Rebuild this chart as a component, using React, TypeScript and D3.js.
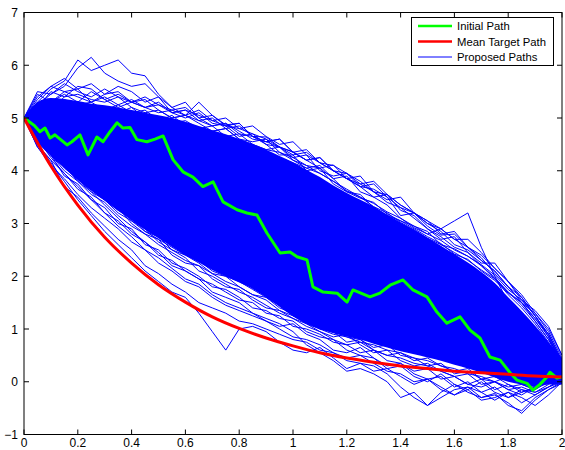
import * as d3 from "d3";

// time grid shared by the proposed paths and the band envelope
const TIME = [
  0, 0.05, 0.1, 0.15, 0.2, 0.25, 0.3, 0.35, 0.4, 0.45, 0.5, 0.55, 0.6, 0.65, 0.7, 0.75, 0.8, 0.85, 0.9, 0.95,
  1.0, 1.05, 1.1, 1.15, 1.2, 1.25, 1.3, 1.35, 1.4, 1.45, 1.5, 1.55, 1.6, 1.65, 1.7, 1.75, 1.8, 1.85, 1.9, 1.95, 2.0,
];

// dense part of the proposed paths (upper / lower edge)
const BAND_UPPER = [
  5.0, 5.3, 5.38, 5.36, 5.32, 5.27, 5.24, 5.2, 5.15, 5.1, 5.05, 5.0, 4.93, 4.85, 4.77, 4.69, 4.6, 4.5, 4.4, 4.28,
  4.16, 4.02, 3.88, 3.72, 3.58, 3.45, 3.32, 3.17, 3.02, 2.88, 2.73, 2.58, 2.42, 2.26, 2.08, 1.87, 1.6, 1.34, 1.06, 0.75, 0.45,
];
const BAND_LOWER = [
  5.0, 4.55, 4.28, 4.05, 3.82, 3.62, 3.43, 3.24, 3.06, 2.88, 2.72, 2.56, 2.4, 2.26, 2.12, 2.0, 1.88, 1.76, 1.6, 1.42,
  1.24, 1.1, 1.0, 0.92, 0.86, 0.8, 0.72, 0.65, 0.58, 0.52, 0.46, 0.4, 0.32, 0.25, 0.17, 0.08, 0.0, -0.05, -0.1, -0.05, -0.05,
];

// individual proposed paths around the edges of the band
const PROPOSED = [
  [5.0, 5.3, 5.55, 5.7, 6.1, 5.9, 6.0, 6.1, 5.85, 5.8, 5.45, 5.2, 5.3, 5.0, 4.85, 4.9, 4.7, 4.65, 4.5, 4.3,
   4.3, 4.0, 4.05, 3.75, 3.6, 3.55, 3.3, 3.15, 3.05, 2.95, 2.8, 2.9, 3.05, 3.2, 2.55, 2.0, 1.5, 1.2, 0.9, 0.55, 0.15],
  [5.0, 5.25, 5.45, 5.6, 5.95, 6.15, 5.85, 5.7, 5.6, 5.65, 5.4, 5.1, 5.15, 5.05, 4.95, 5.0, 4.8, 4.7, 4.6, 4.45,
   4.3, 4.35, 4.15, 4.0, 3.85, 3.75, 3.6, 3.4, 3.3, 3.1, 2.9, 2.75, 2.55, 2.45, 2.2, 1.95, 1.65, 1.4, 1.1, 0.75, 0.2],
  [5.0, 5.4, 5.6, 5.5, 5.55, 5.3, 5.45, 5.5, 5.3, 5.35, 5.15, 5.0, 5.05, 5.3, 5.05, 4.87, 4.9, 4.65, 4.64, 4.45,
   4.35, 4.4, 4.15, 4.0, 3.95, 3.8, 3.6, 3.55, 3.35, 3.2, 3.0, 2.85, 2.6, 2.5, 2.3, 2.1, 1.8, 1.5, 1.2, 0.85, 0.35],
  [5.0, 5.2, 5.3, 5.45, 5.3, 5.5, 5.35, 5.2, 5.3, 5.2, 5.1, 5.15, 5.05, 4.95, 4.85, 4.9, 4.75, 4.6, 4.55, 4.45,
   4.36, 4.2, 4.05, 4.11, 3.85, 3.7, 3.65, 3.5, 3.3, 3.2, 3.0, 2.9, 2.7, 2.55, 2.4, 2.15, 1.9, 1.6, 1.25, 0.9, 0.4],
  [5.0, 5.45, 5.3, 5.5, 5.4, 5.3, 5.4, 5.25, 5.35, 5.2, 5.25, 5.1, 5.15, 4.95, 5.0, 4.8, 4.85, 4.65, 4.55, 4.6,
   4.35, 4.2, 4.25, 4.0, 3.85, 3.7, 3.75, 3.5, 3.15, 3.2, 2.95, 2.78, 2.8, 2.55, 2.35, 2.05, 1.8, 1.5, 1.15, 0.8, 0.3],
  [5.0, 5.1, 5.3, 5.2, 5.1, 5.25, 5.05, 5.1, 5.2, 5.0, 4.95, 5.05, 4.85, 4.8, 4.75, 4.8, 4.6, 4.5, 4.4, 4.35,
   4.2, 4.1, 3.95, 3.8, 3.65, 3.5, 3.32, 3.2, 3.02, 2.88, 2.72, 2.6, 2.45, 2.3, 2.12, 1.95, 1.7, 1.5, 1.3, 1.0, 0.5],
  [5.0, 5.3, 5.15, 5.35, 5.25, 5.3, 5.15, 5.25, 5.1, 5.15, 4.95, 4.9, 4.95, 4.8, 4.85, 4.65, 4.7, 4.5, 4.4, 4.45,
   4.2, 4.05, 4.1, 3.85, 3.6, 3.48, 3.4, 3.18, 3.05, 2.9, 2.75, 2.62, 2.42, 2.32, 2.1, 1.92, 1.68, 1.5, 1.2, 0.9, 0.4],
  [5.0, 5.5, 5.45, 5.65, 5.5, 5.4, 5.55, 5.4, 5.3, 5.4, 5.25, 5.15, 5.2, 5.0, 5.05, 4.85, 4.8, 4.85, 4.65, 4.5,
   4.55, 4.3, 4.15, 4.1, 3.95, 3.75, 3.8, 3.55, 3.35, 3.2, 3.05, 2.8, 2.85, 2.55, 2.3, 2.1, 1.8, 1.6, 1.25, 0.9, 0.35],
  [5.0, 5.2, 5.5, 5.4, 5.6, 5.55, 5.35, 5.45, 5.3, 5.2, 5.3, 5.1, 5.0, 5.1, 4.9, 4.85, 4.65, 4.7, 4.5, 4.45,
   4.25, 4.3, 4.0, 3.9, 3.95, 3.7, 3.5, 3.55, 3.25, 3.15, 2.9, 2.7, 2.75, 2.45, 2.25, 2.25, 1.9, 1.65, 1.3, 0.95, 0.45],
  [5.0, 5.35, 5.6, 5.75, 5.55, 5.65, 5.45, 5.6, 5.5, 5.3, 5.4, 5.2, 5.05, 5.15, 4.95, 4.85, 4.9, 4.65, 4.55, 4.6,
   4.35, 4.2, 4.25, 4.0, 3.85, 3.9, 3.6, 3.45, 3.5, 3.2, 3.05, 2.9, 2.7, 2.7, 2.45, 2.15, 1.9, 1.55, 1.25, 0.85, 0.3],
  [5.0, 5.25, 5.15, 5.4, 5.45, 5.35, 5.3, 5.4, 5.2, 5.1, 5.15, 5.0, 5.05, 4.9, 4.75, 4.8, 4.6, 4.55, 4.6, 4.35,
   4.25, 4.1, 4.05, 3.85, 3.9, 3.6, 3.5, 3.35, 3.1, 2.95, 2.85, 2.6, 2.52, 2.38, 2.2, 1.98, 1.7, 1.45, 1.15, 0.8, 0.4],
  [5.0, 5.15, 5.3, 5.25, 5.1, 5.2, 5.1, 5.0, 5.1, 4.95, 4.9, 4.95, 4.75, 4.7, 4.75, 4.55, 4.45, 4.5, 4.35, 4.25,
   4.15, 4.05, 3.95, 3.8, 3.62, 3.5, 3.38, 3.22, 3.1, 2.92, 2.8, 2.68, 2.5, 2.38, 2.22, 2.02, 1.75, 1.55, 1.35, 1.05, 0.5],
  [5.0, 4.5, 4.15, 3.8, 3.45, 3.15, 2.85, 2.6, 2.35, 2.1, 1.9, 1.7, 1.6, 1.3, 0.95, 0.6, 1.0, 1.05, 0.95, 0.75,
   0.6, 0.55, 0.65, 0.45, 0.25, 0.35, 0.3, 0.15, -0.1, -0.3, -0.45, -0.2, -0.05, -0.2, -0.3, -0.22, -0.45, -0.55, -0.3, -0.15, 0.0],
  [5.0, 4.6, 4.25, 3.95, 3.7, 3.45, 3.2, 2.95, 2.75, 2.5, 2.35, 2.15, 1.95, 1.85, 1.65, 1.5, 1.4, 1.3, 1.2, 1.1,
   0.95, 0.7, 0.55, 0.4, 0.2, 0.25, 0.15, 0.0, -0.3, -0.2, -0.45, -0.3, -0.15, -0.1, -0.3, -0.25, -0.4, -0.6, -0.35, -0.15, -0.03],
  [5.0, 4.65, 4.35, 4.1, 3.8, 3.6, 3.35, 3.1, 2.85, 2.65, 2.45, 2.2, 2.1, 1.95, 1.7, 1.6, 1.5, 1.3, 1.15, 1.05,
   1.1, 0.9, 0.8, 0.6, 0.55, 0.65, 0.45, 0.3, 0.35, 0.15, 0.05, 0.1, -0.1, 0.0, -0.2, -0.1, -0.3, -0.2, -0.1, 0.05, 0.1],
  [5.0, 4.7, 4.4, 4.2, 3.9, 3.75, 3.5, 3.3, 3.05, 2.9, 2.65, 2.5, 2.35, 2.1, 2.0, 1.85, 1.7, 1.6, 1.45, 1.3,
   1.2, 1.1, 0.95, 0.85, 0.9, 0.7, 0.55, 0.6, 0.4, 0.3, 0.35, 0.2, 0.1, -0.05, 0.05, -0.15, -0.05, -0.2, -0.1, 0.1, 0.05],
  [5.0, 4.6, 4.45, 4.15, 3.95, 3.65, 3.45, 3.3, 3.0, 2.8, 2.7, 2.4, 2.25, 2.2, 1.95, 1.8, 1.75, 1.55, 1.4, 1.35,
   1.25, 1.15, 1.0, 0.95, 0.75, 0.8, 0.6, 0.5, 0.55, 0.4, 0.45, 0.3, 0.2, 0.25, 0.05, 0.1, -0.05, -0.15, -0.2, -0.05, 0.15],
  [5.0, 4.5, 4.2, 3.95, 3.65, 3.5, 3.2, 3.05, 2.8, 2.65, 2.4, 2.3, 2.1, 1.95, 1.85, 1.7, 1.55, 1.5, 1.3, 1.25,
   1.05, 1.0, 0.9, 0.75, 0.7, 0.55, 0.6, 0.4, 0.35, 0.2, 0.25, 0.05, 0.1, -0.05, -0.1, 0.0, -0.15, -0.25, -0.1, 0.0, 0.1],
  [5.0, 4.55, 4.3, 3.9, 3.75, 3.45, 3.3, 3.0, 2.9, 2.6, 2.5, 2.25, 2.15, 2.0, 1.8, 1.75, 1.6, 1.4, 1.35, 1.2,
   1.15, 0.95, 0.85, 0.8, 0.6, 0.5, 0.45, 0.25, 0.3, 0.1, 0.0, 0.15, -0.05, -0.15, 0.0, -0.2, -0.3, -0.15, -0.25, -0.1, 0.05],
  [5.0, 4.45, 4.1, 3.85, 3.55, 3.3, 3.1, 2.9, 2.65, 2.5, 2.25, 2.1, 1.9, 1.8, 1.6, 1.45, 1.35, 1.25, 1.15, 1.0,
   0.85, 0.8, 0.7, 0.55, 0.45, 0.5, 0.35, 0.2, 0.15, 0.0, 0.05, -0.15, -0.25, -0.1, -0.2, -0.35, -0.2, -0.3, -0.45, -0.25, 0.0],
  [5.0, 4.7, 4.35, 4.15, 3.85, 3.7, 3.45, 3.25, 3.1, 2.85, 2.75, 2.5, 2.4, 2.25, 2.05, 2.0, 1.8, 1.65, 1.6, 1.4,
   1.3, 1.25, 1.05, 1.0, 0.85, 0.8, 0.65, 0.7, 0.5, 0.45, 0.3, 0.35, 0.15, 0.2, 0.05, 0.0, 0.1, -0.05, -0.15, 0.05, 0.15],
  [5.0, 4.45, 4.2, 3.7, 3.5, 3.2, 2.95, 2.7, 2.5, 2.2, 2.05, 1.85, 1.7, 1.5, 1.4, 1.3, 1.15, 1.1, 1.0, 0.9,
   0.8, 0.75, 0.6, 0.55, 0.4, 0.35, 0.2, 0.25, 0.1, -0.05, 0.05, -0.1, -0.25, -0.15, -0.35, -0.3, -0.2, -0.4, -0.25, -0.1, 0.05],
  [5.0, 4.65, 4.4, 4.05, 3.85, 3.6, 3.45, 3.2, 3.05, 2.85, 2.7, 2.55, 2.4, 2.3, 2.1, 2.0, 1.9, 1.75, 1.6, 1.45,
   1.25, 1.1, 1.0, 0.9, 0.85, 0.75, 0.7, 0.6, 0.55, 0.45, 0.4, 0.3, 0.25, 0.15, 0.1, 0.0, -0.1, -0.05, -0.15, 0.0, 0.05],
  [5.0, 4.55, 4.3, 4.0, 3.8, 3.55, 3.4, 3.15, 2.95, 2.8, 2.6, 2.45, 2.3, 2.2, 2.05, 1.9, 1.8, 1.65, 1.55, 1.35,
   1.2, 1.05, 0.95, 0.8, 0.7, 0.75, 0.6, 0.5, 0.45, 0.35, 0.3, 0.2, 0.1, 0.15, -0.05, 0.0, -0.15, -0.1, -0.2, -0.1, 0.0],
];

// initial path, [t, value]
const INITIAL = [
  [0, 5.0], [0.022, 4.92], [0.04, 4.85], [0.059, 4.74], [0.078, 4.81], [0.097, 4.62], [0.115, 4.68], [0.134, 4.6],
  [0.16, 4.49], [0.178, 4.55], [0.208, 4.68], [0.238, 4.3], [0.271, 4.64], [0.294, 4.55], [0.32, 4.74], [0.346, 4.91],
  [0.368, 4.81], [0.394, 4.82], [0.42, 4.59], [0.457, 4.55], [0.487, 4.6], [0.517, 4.66], [0.554, 4.21], [0.591, 3.98],
  [0.628, 3.88], [0.665, 3.7], [0.703, 3.79], [0.74, 3.41], [0.792, 3.26], [0.829, 3.2], [0.866, 3.16], [0.903, 2.82],
  [0.952, 2.44], [0.989, 2.46], [1.015, 2.37], [1.052, 2.31], [1.074, 1.8], [1.112, 1.7], [1.164, 1.68], [1.201, 1.51],
  [1.223, 1.74], [1.286, 1.61], [1.323, 1.68], [1.361, 1.83], [1.409, 1.93], [1.446, 1.74], [1.498, 1.61], [1.535, 1.32],
  [1.572, 1.11], [1.621, 1.23], [1.658, 0.98], [1.695, 0.83], [1.732, 0.47], [1.77, 0.41], [1.807, 0.17], [1.833, 0.03],
  [1.87, -0.03], [1.892, -0.16], [1.918, -0.05], [1.944, 0.09], [1.955, 0.18], [1.981, 0.07], [2.0, 0.09],
];

// mean target path read on a 0.1 grid
const MEAN_T = [0, 0.1, 0.2, 0.3, 0.4, 0.5, 0.6, 0.7, 0.8, 0.9, 1.0, 1.1, 1.2, 1.3, 1.4, 1.5, 1.6, 1.7, 1.8, 1.9, 2.0];
const MEAN_V = [5.0, 4.09, 3.35, 2.74, 2.25, 1.84, 1.51, 1.23, 1.01, 0.83, 0.68, 0.55, 0.45, 0.37, 0.3, 0.25, 0.2, 0.17, 0.14, 0.11, 0.09];

const X_TICKS = [0, 0.2, 0.4, 0.6, 0.8, 1, 1.2, 1.4, 1.6, 1.8, 2];
const Y_TICKS = [-1, 0, 1, 2, 3, 4, 5, 6, 7];
const LEGEND = [
  { label: "Initial Path", color: "#00ff00", width: 2.5 },
  { label: "Mean Target Path", color: "#ff0000", width: 2.5 },
  { label: "Proposed Paths", color: "#0000ff", width: 1 },
];

const W = 565;
const H = 450;
const left = 24;
const right = 562;
const top = 12.5;
const bottom = 434.5;
const font = "'Liberation Sans', Arial, Helvetica, sans-serif";

export default function App() {
  const x = d3.scaleLinear().domain([0, 2]).range([left, right]);
  const y = d3.scaleLinear().domain([-1, 7]).range([bottom, top]);

  const line = d3
    .line<[number, number]>()
    .x((d) => x(d[0]))
    .y((d) => y(d[1]));

  const band = d3
    .area<number>()
    .x((_, i) => x(TIME[i]))
    .y0((_, i) => y(BAND_LOWER[i]))
    .y1((_, i) => y(BAND_UPPER[i]))
    .curve(d3.curveMonotoneX);

  const meanLine = d3
    .line<number>()
    .x((d) => x(d))
    .y((_, i) => y(MEAN_V[i]))
    .curve(d3.curveMonotoneX);

  const fmt = (v: number) => (v < 0 ? "\u2212" + Math.abs(v) : String(v));

  return (
    <div style={{ position: "absolute", left: 0, top: 0 }}>
      <svg width={W} height={H} style={{ display: "block", background: "#fff" }}>
        <defs>
          <clipPath id="plot">
            <rect x={left} y={top} width={right - left} height={bottom - top} />
          </clipPath>
        </defs>
        <g clipPath="url(#plot)">
          <path d={band(TIME) || ""} fill="#0000ff" />
          {PROPOSED.map((vals, k) => (
            <path
              key={k}
              d={line(vals.map((v, i) => [TIME[i], v] as [number, number])) || ""}
              fill="none"
              stroke="#0000ff"
              strokeWidth={1}
              strokeLinejoin="round"
            />
          ))}
          <path
            d={line(INITIAL as [number, number][]) || ""}
            fill="none"
            stroke="#00ff00"
            strokeWidth={3}
            strokeLinejoin="round"
          />
          <path d={meanLine(MEAN_T) || ""} fill="none" stroke="#ff0000" strokeWidth={3} />
        </g>

        {/* axes box */}
        <rect x={left} y={top} width={right - left} height={bottom - top} fill="none" stroke="#000" strokeWidth={1} />
        {X_TICKS.map((t) => (
          <g key={"x" + t}>
            <line x1={x(t)} x2={x(t)} y1={bottom} y2={bottom - 5} stroke="#000" />
            <line x1={x(t)} x2={x(t)} y1={top} y2={top + 5} stroke="#000" />
            <text x={x(t)} y={447} textAnchor="middle" fontFamily={font} fontSize={12} fill="#000">
              {fmt(t)}
            </text>
          </g>
        ))}
        {Y_TICKS.map((v) => (
          <g key={"y" + v}>
            <line x1={left} x2={left + 5} y1={y(v)} y2={y(v)} stroke="#000" />
            <line x1={right} x2={right - 5} y1={y(v)} y2={y(v)} stroke="#000" />
            <text x={18} y={y(v) + 4.5} textAnchor="end" fontFamily={font} fontSize={12} fill="#000">
              {fmt(v)}
            </text>
          </g>
        ))}

        {/* legend */}
        <rect x={411.5} y={17.5} width={142} height={48} fill="#fff" stroke="#000" strokeWidth={1} />
        {LEGEND.map((d, i) => (
          <g key={d.label}>
            <line x1={418} x2={452} y1={26 + i * 15.5} y2={26 + i * 15.5} stroke={d.color} strokeWidth={d.width} />
            <text x={457} y={30 + i * 15.5} fontFamily={font} fontSize={11.3} fill="#000">
              {d.label}
            </text>
          </g>
        ))}
      </svg>
    </div>
  );
}
